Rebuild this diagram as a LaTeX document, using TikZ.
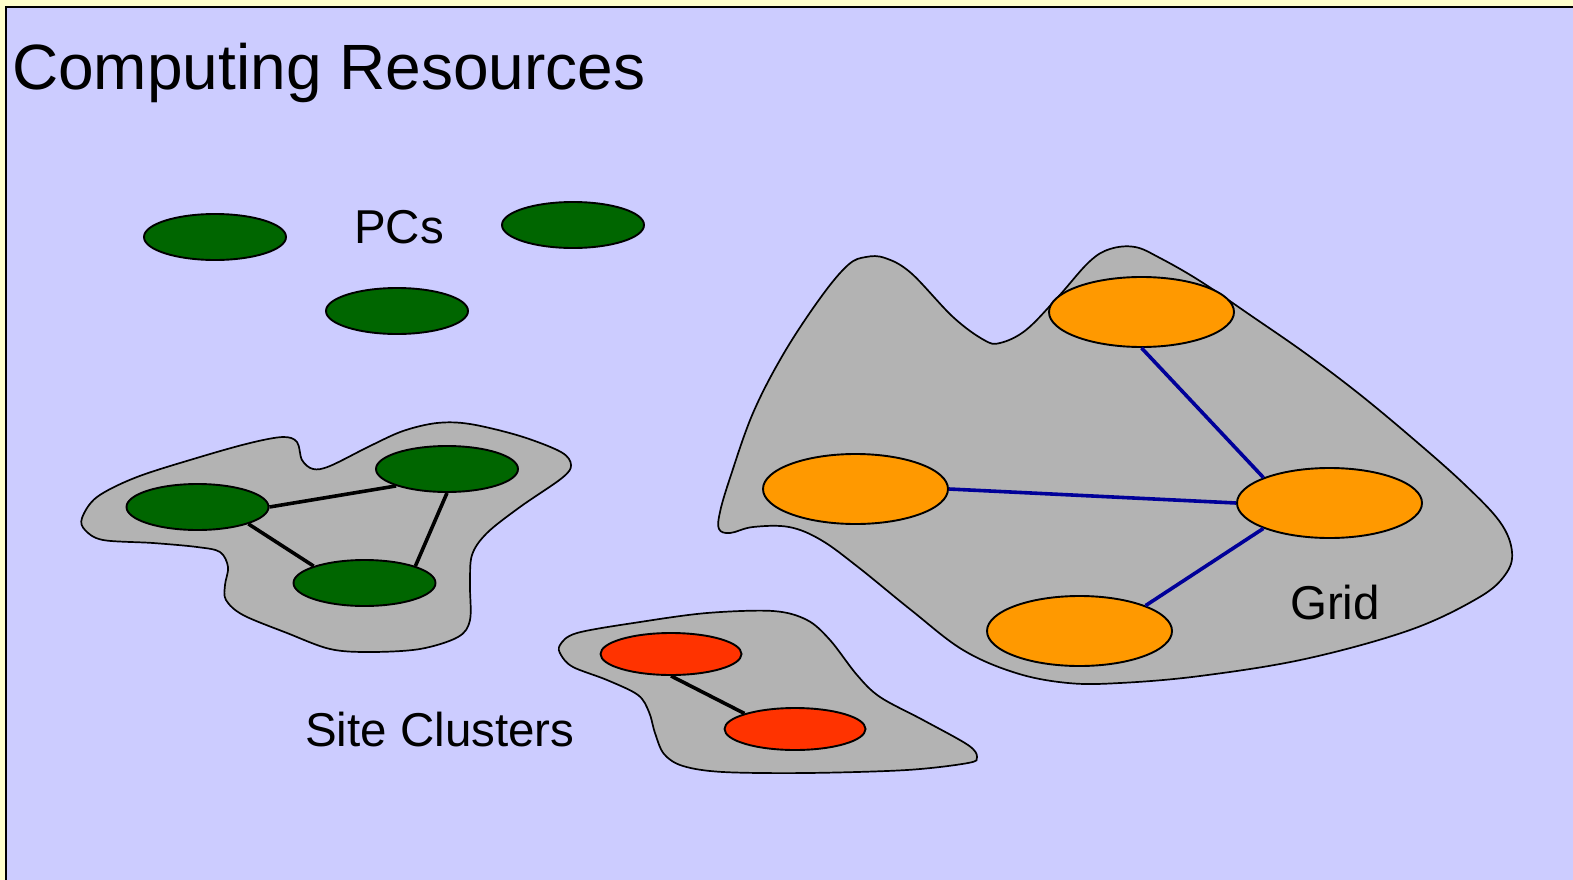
\documentclass[tikz,border=0pt]{standalone}
\usepackage{fontspec}
\setmainfont{Liberation Sans}
\usetikzlibrary{shapes.geometric}
\definecolor{bgyellow}{HTML}{FFFFCC}
\definecolor{bgblue}{HTML}{CCCCFF}
\definecolor{blobgray}{HTML}{B3B3B3}
\definecolor{pcgreen}{HTML}{006600}
\definecolor{gridorange}{HTML}{FF9900}
\definecolor{sitered}{HTML}{FF3300}
\definecolor{linkblue}{HTML}{000099}
\begin{document}
\begin{tikzpicture}[x=1pt,y=-1pt,
  blob/.style={draw=black, line width=1.7pt, fill=blobgray},
  pc/.style={ellipse, draw=black, line width=1.9pt, fill=pcgreen, minimum width=142pt, minimum height=46pt, inner sep=0pt},
  site/.style={ellipse, draw=black, line width=1.9pt, fill=sitered, minimum width=141pt, minimum height=42pt, inner sep=0pt},
  gridnode/.style={ellipse, draw=black, line width=1.9pt, fill=gridorange, minimum width=185pt, minimum height=70pt, inner sep=0pt},
  clink/.style={draw=black, line width=3.6pt},
  glink/.style={draw=linkblue, line width=3.6pt},
  label/.style={inner sep=0pt, anchor=base west, font=\fontsize{47.5}{56}\selectfont},
  title/.style={inner sep=0pt, anchor=base west, font=\fontsize{64}{76}\selectfont}]
\useasboundingbox (0,0) rectangle (1573,880);
\fill[bgyellow] (0,0) rectangle (1573,880);
\fill[bgblue] (6,7) rectangle (1573,880);
\draw[black, line width=2.2pt] (6,880) -- (6,7) -- (1573,7);

% blobs
\draw[blob] plot[smooth cycle, tension=0.55] coordinates {
 (82,518) (97,497) (137,477) (200,457) (250,443) (283,437) (297,442) (302,460) (313,469) (330,466) (370,446) (403,431) (437,423) (470,424) (520,436) (561,452) (571,465) (562,478) (520,507) (487,533) (472,555) (470,585) (470,620) (458,637) (420,649) (370,652) (330,649) (287,633) (243,615) (226,600) (225,585) (228,567) (220,552) (197,547) (153,543) (103,540) (85,530)};
\draw[blob] plot[smooth cycle, tension=0.55] coordinates {
 (560,645) (577,633) (640,622) (707,613) (773,611) (807,620) (830,640) (857,675) (880,697) (923,720) (968,745) (977,757) (968,763) (907,770) (807,773) (723,772) (683,766) (664,754) (655,733) (649,712) (638,695) (607,680) (573,667) (561,655)};
\draw[blob] plot[smooth cycle, tension=0.6] coordinates {
 (719,529) (730,533) (753,527) (789,527) (821,540) (858,567) (911,610) (963,650) (1016,673) (1068,683) (1120,683) (1200,676) (1305,659) (1410,630) (1478,598) (1505,575) (1512,552) (1500,522) (1463,483) (1411,437) (1358,393) (1305,353) (1253,317) (1200,281) (1160,258) (1135,247) (1110,249) (1089,262) (1058,297) (1026,330) (1000,343) (984,340) (953,317) (911,273) (885,258) (866,257) (848,265) (821,297) (784,353) (753,413) (730,478) (720,512)};

% PCs
\node[pc] (pc1) at (215,237) {};
\node[pc] (pc2) at (573,225) {};
\node[pc] (pc3) at (397,311) {};

% site cluster 1
\node[pc] (ca) at (197.5,507) {};
\node[pc] (cb) at (447,469) {};
\node[pc] (cc) at (364.5,583) {};
\draw[clink] (ca.east) -- (cb.south west);
\draw[clink] (ca.south east) -- (cc.north west);
\draw[clink] (cb.south) -- (cc.north east);

% site cluster 2
\node[site] (ra) at (671,654) {};
\node[site] (rb) at (795,729) {};
\draw[clink] (ra.south) -- (rb.north west);

% grid
\node[gridnode] (g1) at (1141.5,312) {};
\node[gridnode] (g2) at (855.5,489) {};
\node[gridnode] (g3) at (1329.5,503) {};
\node[gridnode] (g4) at (1079.5,631) {};
\draw[glink] (g1.south) -- (g3.north west);
\draw[glink] (g2.east) -- (g3.west);
\draw[glink] (g3.south west) -- (g4.north east);

% texts
\node[title] (t) at (12,90) {Computing Resources};
\node[label] (lpc) at (354,243) {PCs};
\node[label] (lsc) at (305,746) {Site Clusters};
\node[label] (lgr) at (1290,619) {Grid};
\end{tikzpicture}
\end{document}
